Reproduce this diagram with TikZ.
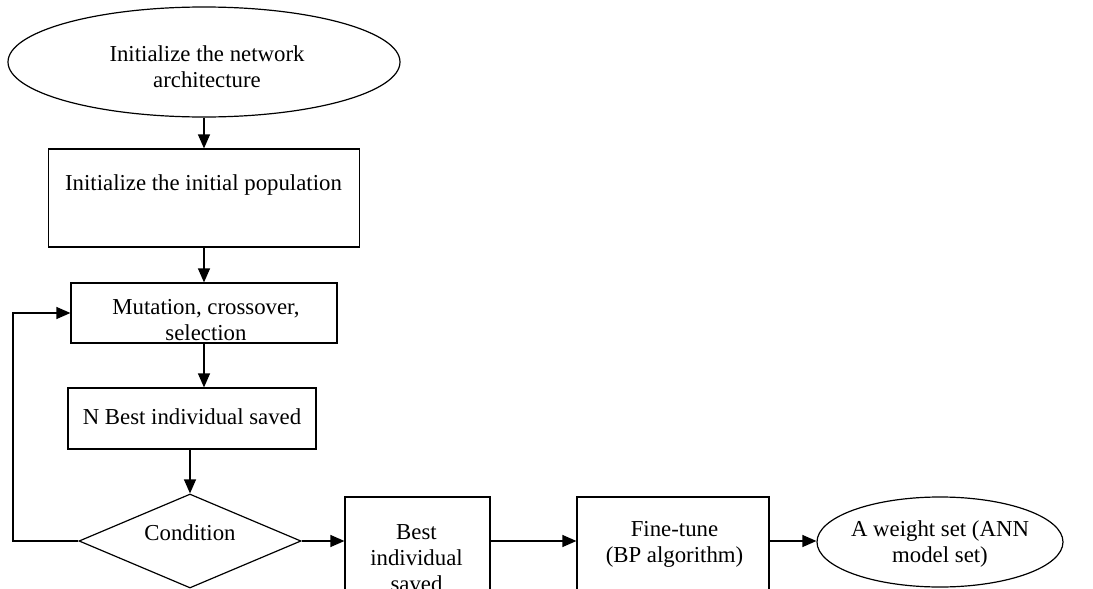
\documentclass[tikz,border=0pt]{standalone}
\usepackage{fontspec}
\setmainfont{Liberation Serif}
\usetikzlibrary{shapes.geometric,arrows.meta}
\tikzset{
  box/.style={draw,line width=1.2pt,inner sep=0pt},
  lbl/.style={align=center,inner sep=0pt,font=\fontsize{22.8}{26}\selectfont},
  arr/.style={line width=1.2pt,-{Triangle[length=14pt,width=12pt]}}
}
\begin{document}
\begin{tikzpicture}[x=1pt,y=-1pt]
  \useasboundingbox (0,0) rectangle (1093,589);
  \clip (0,0) rectangle (1093,589);
  % shapes
  \node[box,ellipse,minimum width=392,minimum height=110] (arch) at (204,62) {};
  \node[box,minimum width=311,minimum height=98] (pop) at (204,198) {};
  \node[box,minimum width=266,minimum height=60] (gen) at (204,313) {};
  \node[box,minimum width=248,minimum height=61] (nbest) at (192,418.5) {};
  \node[box,diamond,minimum width=222,minimum height=94] (cond) at (190,541) {};
  \node[box,minimum width=145,minimum height=122] (best) at (417.5,558) {};
  \node[box,minimum width=192,minimum height=100] (tune) at (673,547) {};
  \node[box,ellipse,minimum width=246,minimum height=90] (wset) at (940,542) {};
  \coordinate (back) at (13,541);
  % texts
  \node[lbl] (archT) at (207,67) {Initialize the network\\architecture};
  \node[lbl] (popT) at (203.5,185) {Initialize the initial population};
  \node[lbl] (genT) at (206,320) {Mutation, crossover,\\selection};
  \node[lbl] (nbestT) at (192,417) {N Best individual saved};
  \node[lbl] (condT) at (190,533) {Condition};
  \node[lbl] (bestT) at (416.5,558) {Best\\individual\\saved};
  \node[lbl] (tuneT) at (674.5,544) {Fine-tune\\(BP algorithm)};
  \node[lbl] (wsetT) at (940,544) {A weight set (ANN\\model set)};
  % arrows
  \draw[arr] (arch.south) -- (pop.north);
  \draw[arr] (pop.south) -- (gen.north);
  \draw[arr] (gen.south) -- (gen.south |- nbest.north);
  \draw[arr] (cond.north |- nbest.south) -- (cond.north);
  \draw[arr] (cond.west) -- (back) |- (gen.west);
  \draw[arr] (cond.east) -- (cond.east -| best.west);
  \draw[arr] (best.east |- cond.east) -- (tune.west |- cond.east);
  \draw[arr] (tune.east |- cond.east) -- (wset.west |- cond.east);
\end{tikzpicture}
\end{document}
